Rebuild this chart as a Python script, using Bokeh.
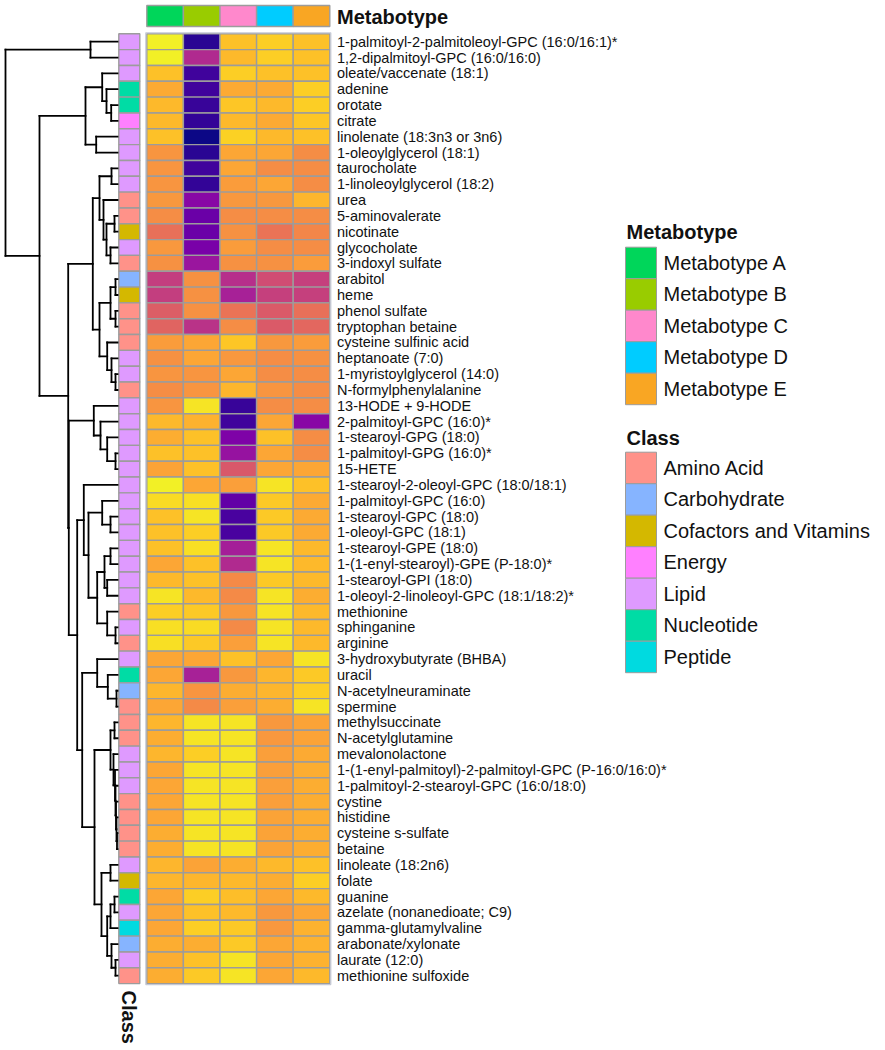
from math import pi
from bokeh.plotting import figure
from bokeh.models import Range1d, ColumnDataSource
from bokeh.palettes import Plasma256
from bokeh.transform import linear_cmap
from bokeh.embed import file_html
from bokeh.resources import INLINE
from bokeh.core.properties import value

# ---------------- data ----------------
metabolites = [
    "1-palmitoyl-2-palmitoleoyl-GPC (16:0/16:1)*", "1,2-dipalmitoyl-GPC (16:0/16:0)",
    "oleate/vaccenate (18:1)", "adenine", "orotate", "citrate", "linolenate (18:3n3 or 3n6)",
    "1-oleoylglycerol (18:1)", "taurocholate", "1-linoleoylglycerol (18:2)", "urea",
    "5-aminovalerate", "nicotinate", "glycocholate", "3-indoxyl sulfate", "arabitol", "heme",
    "phenol sulfate", "tryptophan betaine", "cysteine sulfinic acid", "heptanoate (7:0)",
    "1-myristoylglycerol (14:0)", "N-formylphenylalanine", "13-HODE + 9-HODE",
    "2-palmitoyl-GPC (16:0)*", "1-stearoyl-GPG (18:0)", "1-palmitoyl-GPG (16:0)*", "15-HETE",
    "1-stearoyl-2-oleoyl-GPC (18:0/18:1)", "1-palmitoyl-GPC (16:0)", "1-stearoyl-GPC (18:0)",
    "1-oleoyl-GPC (18:1)", "1-stearoyl-GPE (18:0)", "1-(1-enyl-stearoyl)-GPE (P-18:0)*",
    "1-stearoyl-GPI (18:0)", "1-oleoyl-2-linoleoyl-GPC (18:1/18:2)*", "methionine",
    "sphinganine", "arginine", "3-hydroxybutyrate (BHBA)", "uracil", "N-acetylneuraminate",
    "spermine", "methylsuccinate", "N-acetylglutamine", "mevalonolactone",
    "1-(1-enyl-palmitoyl)-2-palmitoyl-GPC (P-16:0/16:0)*", "1-palmitoyl-2-stearoyl-GPC (16:0/18:0)",
    "cystine", "histidine", "cysteine s-sulfate", "betaine", "linoleate (18:2n6)", "folate",
    "guanine", "azelate (nonanedioate; C9)", "gamma-glutamylvaline", "arabonate/xylonate",
    "laurate (12:0)", "methionine sulfoxide",
]

row_class = [
    "Lipid", "Lipid", "Lipid", "Nucleotide", "Nucleotide", "Energy", "Lipid", "Lipid", "Lipid", "Lipid",
    "Amino Acid", "Amino Acid", "Cofactors and Vitamins", "Lipid", "Amino Acid", "Carbohydrate",
    "Cofactors and Vitamins", "Amino Acid", "Amino Acid", "Amino Acid", "Lipid", "Lipid", "Amino Acid",
    "Lipid", "Lipid", "Lipid", "Lipid", "Lipid", "Lipid", "Lipid", "Lipid", "Lipid", "Lipid", "Lipid",
    "Lipid", "Lipid", "Amino Acid", "Lipid", "Amino Acid", "Lipid", "Nucleotide", "Carbohydrate",
    "Amino Acid", "Amino Acid", "Amino Acid", "Lipid", "Lipid", "Lipid", "Amino Acid", "Amino Acid",
    "Amino Acid", "Amino Acid", "Lipid", "Cofactors and Vitamins", "Nucleotide", "Lipid", "Peptide",
    "Carbohydrate", "Lipid", "Amino Acid",
]

metabotypes = ["Metabotype A", "Metabotype B", "Metabotype C", "Metabotype D", "Metabotype E"]
metabotype_colors = ["#00D65A", "#99CC00", "#FF88CC", "#00CCFF", "#F9A623"]

class_names = ["Amino Acid", "Carbohydrate", "Cofactors and Vitamins", "Energy", "Lipid",
               "Nucleotide", "Peptide"]
class_colors = ["#FF9289", "#86B4FF", "#D4B800", "#FF80FF", "#DF9AFF", "#00DCA5", "#00DAE0"]

val_A = [.98, .98, .87, .81, .85, .85, .87, .75, .75, .75, .76, .73, .64, .76, .74, .47, .47, .58, .60, .77,
         .74, .75, .73, .75, .85, .82, .87, .79, .98, .93, .87, .87, .87, .80, .85, .95, .90, .94, .94, .80,
         .80, .84, .80, .84, .82, .84, .80, .80, .80, .80, .82, .82, .84, .84, .80, .80, .80, .82, .82, .82]
val_B = [.05, .40, .10, .10, .08, .07, .00, .05, .10, .07, .28, .20, .20, .24, .33, .74, .74, .74, .43, .80,
         .80, .75, .75, .95, .83, .87, .87, .87, .80, .94, .95, .90, .94, .87, .87, .85, .89, .93, .89, .80,
         .37, .75, .72, .95, .95, .90, .95, .95, .95, .95, .95, .95, .79, .84, .90, .87, .90, .82, .87, .89]
val_C = [.87, .85, .90, .81, .88, .85, .91, .80, .80, .77, .76, .73, .74, .77, .74, .42, .37, .65, .73, .88,
         .76, .80, .84, .08, .10, .25, .32, .56, .78, .18, .12, .12, .36, .40, .72, .72, .76, .72, .78, .87,
         .76, .82, .78, .95, .95, .95, .95, .95, .95, .95, .95, .95, .82, .85, .86, .85, .89, .89, .95, .95]
val_D = [.90, .90, .87, .81, .85, .81, .85, .80, .73, .80, .76, .73, .65, .73, .74, .52, .48, .57, .57, .76,
         .73, .73, .75, .73, .80, .87, .80, .80, .95, .89, .89, .89, .95, .95, .89, .95, .95, .95, .95, .80,
         .84, .84, .82, .76, .76, .78, .78, .78, .78, .79, .79, .79, .85, .82, .80, .76, .76, .80, .80, .80]
val_E = [.87, .87, .87, .90, .90, .88, .87, .73, .73, .73, .84, .73, .71, .73, .77, .48, .48, .64, .61, .77,
         .74, .73, .73, .73, .28, .73, .73, .80, .87, .81, .81, .81, .85, .85, .85, .82, .85, .85, .85, .95,
         .89, .90, .95, .79, .79, .81, .82, .82, .82, .82, .82, .82, .87, .90, .85, .80, .83, .83, .83, .85]

# dendrogram (merge heights, leaves are 1-based row numbers)
dendro_bottom = [2.3,
                 [0.7, [0.3, 44, 45], [0.4, 46, [0.25, 47, [0.2, 48, [0.15, 49, [0.1, 50, [0.05, 51, 52]]]]]]],
                 [1.6, [0.7, 53, 54], [1.03, [0.7, [0.3, 55, 56], 57], [0.6, 58, [0.2, 59, 60]]]]]
dendro_lower = [4.03,
                [3.37, 29, [2.9, [1.53, 30, [0.7, 31, 32]],
                            [2.03, [1.3, [0.7, 33, 34], [1.03, 35, 36]], [1.03, 37, [0.2, 38, 39]]]]],
                [3.53, [2.03, 40, [0.97, 41, [0.1, 42, 43]]], dendro_bottom]]
dendro_middle = [4.93,
                 [2.47,
                  [1.8, [0.6, 9, 10], [1.4, 11, [1.1, [0.3, 12, 13], [0.7, 14, 15]]]],
                  [1.8, [0.7, [0.2, 16, 17], [0.2, 18, 19]], [1.03, 20, [0.6, 21, [0.2, 22, 23]]]]],
                 [4.87, [2.37, 24, [1.7, 25, [1.03, 26, [0.2, 27, 28]]]], dendro_lower]]
dendro_tree = [11.2,
               [2.7, 1, 2],
               [7.8, [3.2, [1.53, 3, [1.1, 4, [0.63, 5, 6]]], [2.13, 7, 8]], dendro_middle]]

# ---------------- layout ----------------
W, H = 885, 1049
HM_X0, CW = 146.3, 36.6       # heatmap left, column width
HM_Y0, RH = 33.3, 15.83       # heatmap top, row height
CB_X0, CB_W = 118.3, 21.0     # class bar
LEAF_X, DSCALE = 117.0, 10.0  # dendrogram
LAB_X = 336.5
LEG_X, SW_W, SW_H = 625.0, 31.0, 31.5

FONT = value("Liberation Sans")

p = figure(width=W, height=H, x_range=Range1d(0, W), y_range=Range1d(H, 0),
           output_backend="svg", toolbar_location=None, min_border=0)
p.axis.visible = False
p.grid.visible = False
p.outline_line_color = None
p.background_fill_color = "white"

n = len(metabolites)
row_y = [HM_Y0 + (i + 0.5) * RH for i in range(n)]

# heatmap cells
cols = [val_A, val_B, val_C, val_D, val_E]
hx, hy, hv = [], [], []
for j, col in enumerate(cols):
    for i, v in enumerate(col):
        hx.append(HM_X0 + (j + 0.5) * CW)
        hy.append(row_y[i])
        hv.append(v)
hsrc = ColumnDataSource(dict(x=hx, y=hy, v=hv))
p.rect(x="x", y="y", width=CW, height=RH, source=hsrc,
       fill_color=linear_cmap("v", Plasma256, 0, 1), line_color="#9c9c9c", line_width=1.4)
# outer frame
p.rect(x=[HM_X0 + 2.5 * CW], y=[HM_Y0 + n * RH / 2], width=5 * CW + 2, height=n * RH + 2,
       fill_color=None, line_color="#c4c8d4", line_width=1.2)

# metabotype header
p.rect(x=[HM_X0 + (j + 0.5) * CW for j in range(5)], y=[15.5] * 5, width=CW, height=21,
       fill_color=metabotype_colors, line_color="#9c9c9c", line_width=1.4)
p.text(x=[LAB_X], y=[16.5], text=["Metabotype"], text_font=FONT, text_font_style="bold",
       text_font_size="20px", text_baseline="middle", text_color="#111111")

# class bar
cmap = dict(zip(class_names, class_colors))
p.rect(x=[CB_X0 + CB_W / 2] * n, y=row_y, width=CB_W, height=RH,
       fill_color=[cmap[c] for c in row_class], line_color="#9c9c9c", line_width=1.4)
p.text(x=[CB_X0 + CB_W / 2 - 0.5], y=[HM_Y0 + n * RH + 7], text=["Class"], angle=-pi / 2,
       text_font=FONT, text_font_style="bold", text_font_size="20px",
       text_align="left", text_baseline="middle", text_color="#111111")

# row labels
p.text(x=[LAB_X] * n, y=row_y, text=metabolites, text_font=FONT, text_font_size="14.5px",
       text_baseline="middle", text_color="#111111")

# dendrogram
segs = []


def walk(node):
    if isinstance(node, int):
        return row_y[node - 1], LEAF_X
    h, l, r = node
    yl, xl = walk(l)
    yr, xr = walk(r)
    x = LEAF_X - h * DSCALE
    segs.append((xl, yl, x, yl))
    segs.append((xr, yr, x, yr))
    segs.append((x, yl, x, yr))
    return (yl + yr) / 2, x


walk(dendro_tree)
p.segment(x0=[s[0] for s in segs], y0=[s[1] for s in segs], x1=[s[2] for s in segs],
          y1=[s[3] for s in segs], line_color="black", line_width=1.8, line_cap="square")


# legends
def legend(title, labels, colors, title_y, top):
    p.text(x=[LEG_X + 1], y=[title_y], text=[title], text_font=FONT, text_font_style="bold",
           text_font_size="20px", text_baseline="middle", text_color="#111111")
    ys = [top + (k + 0.5) * SW_H for k in range(len(labels))]
    p.rect(x=[LEG_X + SW_W / 2] * len(labels), y=ys, width=SW_W, height=SW_H,
           fill_color=colors, line_color="#9c9c9c", line_width=1)
    p.text(x=[LEG_X + SW_W + 7] * len(labels), y=ys, text=labels, text_font=FONT,
           text_font_size="20px", text_baseline="middle", text_color="#111111")


legend("Metabotype", metabotypes, metabotype_colors, 231.5, 246.7)
legend("Class", class_names, class_colors, 437.0, 451.7)

open("out.html", "w").write(file_html(p, INLINE))
